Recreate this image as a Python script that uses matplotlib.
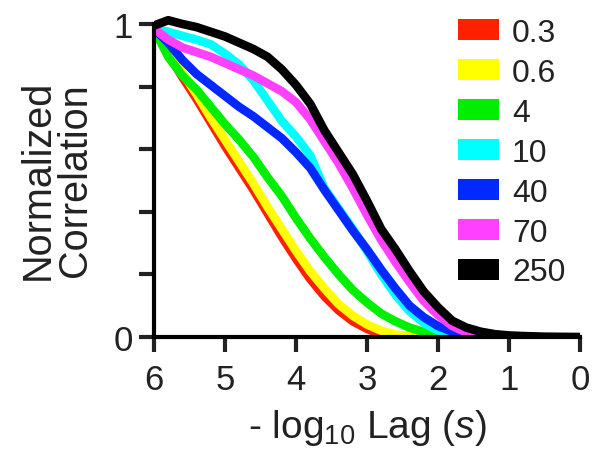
import matplotlib
matplotlib.use("Agg")
import matplotlib.pyplot as plt
from matplotlib.patches import Patch

plt.rcParams["font.family"] = ["Liberation Sans", "DejaVu Sans"]
plt.rcParams["mathtext.fontset"] = "custom"
plt.rcParams["mathtext.rm"] = "Liberation Sans"
plt.rcParams["mathtext.it"] = "Liberation Sans:italic"

# curves: x is -log10 lag, y is normalized correlation
x_red = [6.0, 5.8, 5.6, 5.4, 5.2, 5.0, 4.8, 4.6, 4.4, 4.2, 4.0, 3.8, 3.6, 3.4, 3.2, 3.0, 2.8, 2.6]
y_red = [0.985, 0.905, 0.83, 0.76, 0.685, 0.61, 0.54, 0.47, 0.395, 0.32, 0.25, 0.185, 0.13, 0.085, 0.05, 0.026, 0.008, 0.0]

x_yel = [6.0, 5.8, 5.6, 5.4, 5.2, 5.0, 4.8, 4.6, 4.4, 4.2, 4.0, 3.8, 3.6, 3.4, 3.2, 3.0, 2.8, 2.6, 2.4, 2.2]
y_yel = [0.985, 0.91, 0.845, 0.775, 0.70, 0.63, 0.56, 0.49, 0.415, 0.345, 0.275, 0.21, 0.155, 0.105, 0.068, 0.04, 0.02, 0.008, 0.002, 0.0]

x_grn = [6.0, 5.8, 5.6, 5.4, 5.2, 5.0, 4.8, 4.6, 4.4, 4.2, 4.0, 3.8, 3.6, 3.4, 3.2, 3.0, 2.8, 2.6, 2.4, 2.2, 2.0, 1.8]
y_grn = [0.985, 0.895, 0.835, 0.79, 0.735, 0.68, 0.63, 0.575, 0.51, 0.45, 0.38, 0.315, 0.255, 0.20, 0.15, 0.11, 0.075, 0.05, 0.03, 0.016, 0.006, 0.0]

x_cyn = [6.0, 5.8, 5.6, 5.4, 5.2, 5.0, 4.8, 4.6, 4.4, 4.2, 4.0, 3.8, 3.6, 3.4, 3.2, 3.0, 2.8, 2.6, 2.4, 2.2, 2.0, 1.8, 1.6]
y_cyn = [0.985, 0.975, 0.962, 0.95, 0.935, 0.905, 0.87, 0.82, 0.755, 0.69, 0.64, 0.58, 0.475, 0.41, 0.345, 0.275, 0.2, 0.135, 0.082, 0.045, 0.02, 0.007, 0.0]

x_blu = [6.0, 5.8, 5.6, 5.4, 5.2, 5.0, 4.8, 4.6, 4.4, 4.2, 4.0, 3.8, 3.6, 3.4, 3.2, 3.0, 2.8, 2.6, 2.4, 2.2, 2.0, 1.8, 1.6, 1.4]
y_blu = [0.985, 0.94, 0.885, 0.84, 0.805, 0.77, 0.735, 0.705, 0.67, 0.635, 0.59, 0.54, 0.47, 0.405, 0.34, 0.28, 0.215, 0.155, 0.10, 0.063, 0.035, 0.017, 0.006, 0.0]

x_mag = [6.0, 5.8, 5.6, 5.4, 5.2, 5.0, 4.8, 4.6, 4.4, 4.2, 4.0, 3.8, 3.6, 3.4, 3.2, 3.0, 2.8, 2.6, 2.4, 2.2, 2.0, 1.8, 1.6, 1.4]
y_mag = [0.985, 0.95, 0.925, 0.91, 0.895, 0.875, 0.855, 0.835, 0.81, 0.785, 0.75, 0.695, 0.625, 0.555, 0.475, 0.39, 0.31, 0.24, 0.175, 0.115, 0.07, 0.035, 0.014, 0.003]

x_blk = [6.0, 5.8, 5.6, 5.4, 5.2, 5.0, 4.8, 4.6, 4.4, 4.2, 4.0, 3.8, 3.6, 3.4, 3.2, 3.0, 2.8, 2.6, 2.4, 2.2, 2.0, 1.8, 1.6, 1.4, 1.2, 1.0, 0.8, 0.5, 0.0]
y_blk = [0.995, 1.012, 1.0, 0.99, 0.975, 0.96, 0.94, 0.92, 0.895, 0.855, 0.805, 0.745, 0.66, 0.59, 0.52, 0.435, 0.345, 0.28, 0.21, 0.145, 0.095, 0.052, 0.03, 0.017, 0.009, 0.005, 0.003, 0.001, 0.0]

labels = ["0.3", "0.6", "4", "10", "40", "70", "250"]
colors = ["#ff2000", "#ffff00", "#00ee00", "#00ffff", "#0028ff", "#ff40ff", "#000000"]
series = [(x_red, y_red), (x_yel, y_yel), (x_grn, y_grn), (x_cyn, y_cyn),
          (x_blu, y_blu), (x_mag, y_mag), (x_blk, y_blk)]

fig = plt.figure(figsize=(5.93, 4.64), dpi=100)
ax = fig.add_axes([154 / 593, 126 / 464, 426 / 593, 322.4 / 464])

for (xs, ys), c in zip(series, colors):
    ax.plot(xs, ys, color=c, lw=6.2, solid_joinstyle="round", solid_capstyle="butt")

ax.set_xlim(6, 0)
ax.set_ylim(0, 1.03)
ax.set_xticks([6, 5, 4, 3, 2, 1, 0])
ax.set_yticks([0, 0.2, 0.4, 0.6, 0.8, 1.0])
ax.set_yticklabels(["0", "", "", "", "", "1"])
ax.spines["top"].set_visible(False)
ax.spines["right"].set_visible(False)
ax.spines["left"].set_bounds(0, 1)
for s in ["left", "bottom"]:
    ax.spines[s].set_linewidth(3)
ax.tick_params(direction="out", length=11, width=3, labelsize=25, pad=4, colors="#222222")
ax.tick_params(axis="x", pad=8)

ax.set_xlabel("- log$_{10}$ Lag ($s$)", fontsize=28, labelpad=8, color="#222222")
ax.set_ylabel("Normalized\nCorrelation", fontsize=28.5, linespacing=1.0, color="#222222")
ax.yaxis.set_label_coords(-0.14, 0.49)

handles = [Patch(facecolor=c, edgecolor="none") for c in colors]
ax.legend(handles, labels, loc="upper left", bbox_to_anchor=(458 / 593, 1 - 19 / 464),
          bbox_transform=fig.transFigure, frameon=False, fontsize=23,
          handlelength=1.28, handleheight=0.63, handletextpad=0.41,
          labelspacing=0.31, borderpad=0, borderaxespad=0, labelcolor="#222222")

fig.savefig("out.png", dpi=100)
